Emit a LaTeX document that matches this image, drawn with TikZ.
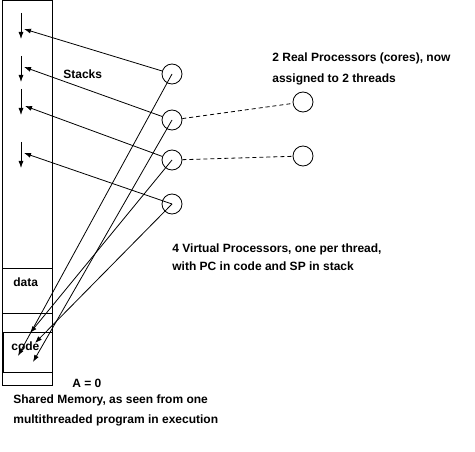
\documentclass[tikz,border=0pt]{standalone}
\usepackage{fontspec}
\setmainfont{Liberation Sans}
\usetikzlibrary{arrows.meta}
\tikzset{
  lbl/.style={anchor=base west, inner sep=0pt, font=\fontsize{12}{14}\selectfont\bfseries},
  proc/.style={draw, circle, minimum size=20pt, inner sep=0pt},
}
\begin{document}
\begin{tikzpicture}[x=1pt, y=-1pt, >={Latex[length=7pt,width=5pt]}, line width=0.8pt]
\useasboundingbox (0,0) rectangle (475,452);
% shared memory
\node[draw, rectangle, minimum width=50pt, minimum height=385pt, inner sep=0pt] (mem) at (27,193) {};
\node[draw, rectangle, minimum width=50pt, minimum height=45pt, inner sep=0pt] (data) at (27,290.5) {};
\node[draw, rectangle, minimum width=49pt, minimum height=40pt, inner sep=0pt] (code) at (27.5,352) {};
\node[lbl] (datatxt) at (13,287) {data};
\node[lbl] (codetxt) at (11,350) {code};
% stacks growing down
\coordinate (st1) at (21,13);
\coordinate (st2) at (21,56);
\coordinate (st3) at (21,89);
\coordinate (st4) at (21,142);
\draw[->] (st1) -- ++(0,26);
\draw[->] (st2) -- ++(0,26);
\draw[->] (st3) -- ++(0,26);
\draw[->] (st4) -- ++(0,26);
% virtual processors
\node[proc] (vp1) at (172,74) {};
\node[proc] (vp2) at (172,120) {};
\node[proc] (vp3) at (172,160) {};
\node[proc] (vp4) at (172,204) {};
% real processors
\node[proc] (rp1) at (303,102) {};
\node[proc] (rp2) at (303,156) {};
\draw[dash pattern=on 4pt off 3pt] (vp2) -- (rp1);
\draw[dash pattern=on 4pt off 3pt] (vp3) -- (rp2);
% SP into the stacks
\coordinate (sp1) at (24,29);
\coordinate (sp2) at (24,67);
\coordinate (sp3) at (25,106);
\coordinate (sp4) at (24,153);
\draw[->] (vp1) -- (sp1);
\draw[->] (vp2) -- (sp2);
\draw[->] (vp3) -- (sp3);
\draw[->] (vp4.center) -- (sp4);
% PC into the code
\coordinate (pc1) at (18,356);
\coordinate (pc2) at (33,362);
\coordinate (pc3) at (30,333);
\coordinate (pc4) at (35,343);
\draw[->] (vp1.center) -- (pc1);
\draw[->] (vp2.center) -- (pc2);
\draw[->] (vp3.center) -- (pc3);
\draw[->] (vp4.center) -- (pc4);
% labels
\node[lbl] (stacks) at (63,79) {Stacks};
\node[lbl] (real1) at (272,62) {2 Real Processors (cores), now};
\node[lbl] (real2) at (272,83) {assigned to 2 threads};
\node[lbl] (virt1) at (172,252) {4 Virtual Processors, one per thread,};
\node[lbl] (virt2) at (172,271) {with PC in code and SP in stack};
\node[lbl] (azero) at (72,387) {A = 0};
\node[lbl] (shared1) at (13,403) {Shared Memory, as seen from one};
\node[lbl] (shared2) at (13,423) {multithreaded program in execution};
\end{tikzpicture}
\end{document}
